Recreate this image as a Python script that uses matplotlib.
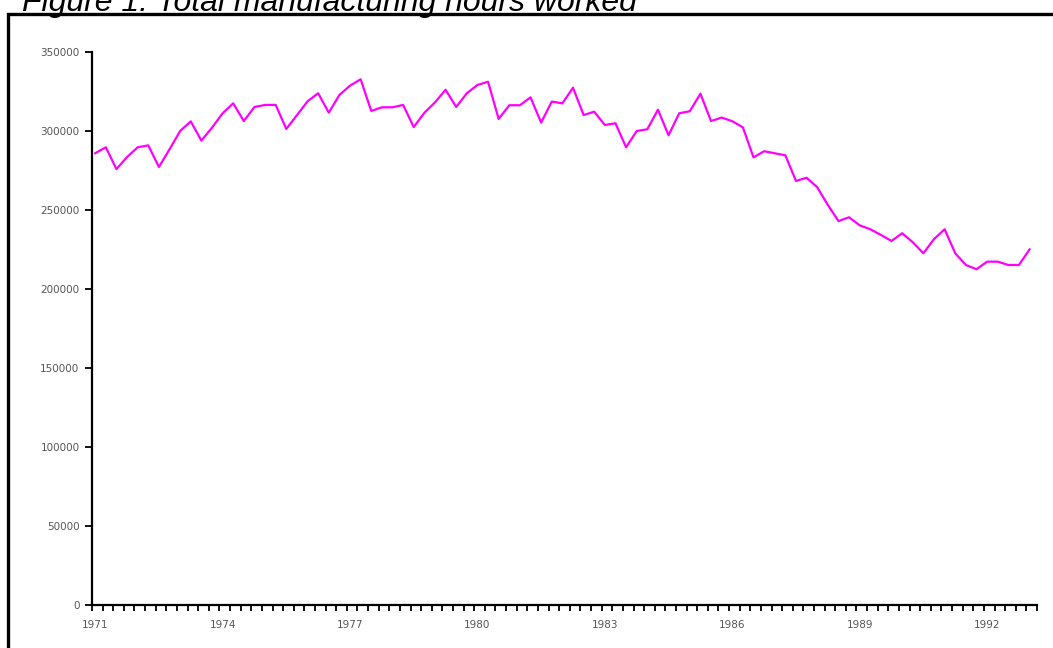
import matplotlib.pyplot as plt
from matplotlib.patches import Rectangle

# Quarterly total manufacturing hours worked, 1971Q1 - 1993Q1
hours = [
    285900, 289700, 275900, 283500, 289700, 290900, 277200, 288400,
    300000, 306100, 293900, 302100, 311200, 317500, 306300, 315200,
    316500, 316500, 301300, 310000, 318800, 323900, 311600, 322800,
    328700, 332700, 312700, 315000, 315000, 316500, 302500, 311500,
    318100, 326100, 315200, 323900, 329100, 331200, 307600, 316300,
    316300, 321300, 305300, 318600, 317500, 327400, 310100, 312200,
    303800, 304900, 289700, 300000, 301100, 313500, 297300, 311200,
    312500, 323600, 306300, 308500, 306200, 302300, 283300, 287200,
    285900, 284600, 268400, 270400, 264400, 253200, 243000, 245400,
    240300, 237800, 234200, 230400, 235300, 229600, 222600, 231600,
    237800, 222600, 215200, 212500, 217300, 217300, 215200, 215200,
    225100,
]
year_labels = ['1971', '1974', '1977', '1980', '1983', '1986', '1989', '1992']
y_ticks = [0, 50000, 100000, 150000, 200000, 250000, 300000, 350000]

fig = plt.figure(figsize=(10.53, 6.48), dpi=100)
ax = fig.add_axes([92 / 1053, 1 - 605 / 648, (1037 - 92) / 1053, (605 - 52) / 648])

x = list(range(len(hours)))
ax.plot(x, hours, color='#FF00FF', linewidth=1.6)

ax.set_xlim(-0.3, 88.7)
ax.set_ylim(0, 350000)

# quarter tick marks sit on the category edges, year labels on the points
ax.set_xticks([k - 0.3 for k in range(90)])
ax.set_xticklabels([])
ax.set_xticks(list(range(0, 85, 12)), minor=True)
ax.set_xticklabels(year_labels, minor=True)
ax.set_yticks(y_ticks)
ax.set_yticklabels([str(v) for v in y_ticks])

tick_font = ['Liberation Sans Narrow', 'DejaVu Sans']
for lab in (ax.get_xticklabels(minor=True) + ax.get_yticklabels()):
    lab.set_family(tick_font)
    lab.set_fontsize(7.5)
    lab.set_color('#555555')

ax.tick_params(axis='x', which='major', direction='out', length=4, width=1.3)
ax.tick_params(axis='x', which='minor', length=0, pad=11)
ax.tick_params(axis='y', direction='out', length=5, width=1.3, pad=4)

for s in ['top', 'right']:
    ax.spines[s].set_visible(False)
for s in ['left', 'bottom']:
    ax.spines[s].set_linewidth(1.6)

# frame around the figure (runs off the right and bottom edges)
fig.patches.append(Rectangle((8 / 1053, -0.1), 1.2, (1 - 14.5 / 648) + 0.1,
                             transform=fig.transFigure, fill=False,
                             edgecolor='black', linewidth=2.4))

fig.text(22 / 1053, 1 - 11 / 648, 'Figure 1: Total manufacturing hours worked',
         fontsize=23, style='italic', family=['Liberation Sans', 'DejaVu Sans'],
         ha='left', va='baseline')

fig.savefig('out.png', dpi=100)
